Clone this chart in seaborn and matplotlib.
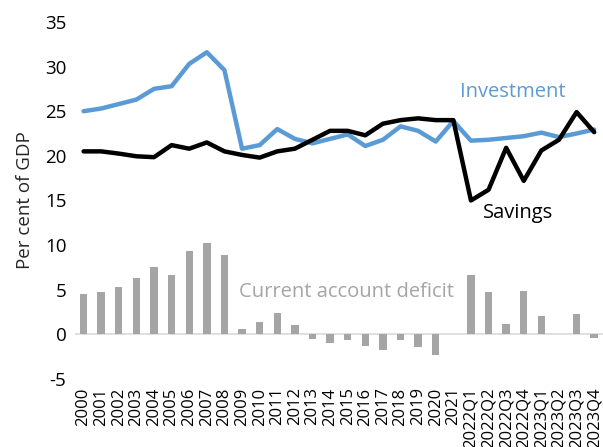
import numpy as np
import pandas as pd
import matplotlib
matplotlib.use("Agg")
import matplotlib.pyplot as plt
import seaborn as sns

categories = [str(y) for y in range(2000, 2022)] + [
    "2022Q1", "2022Q2", "2022Q3", "2022Q4", "2023Q1", "2023Q2", "2023Q3", "2023Q4"]

investment = [25.0, 25.3, 25.8, 26.3, 27.5, 27.8, 30.3, 31.6, 29.6, 20.8, 21.2, 23.0,
              21.9, 21.4, 21.9, 22.4, 21.1, 21.8, 23.3, 22.8, 21.6, 23.9,
              21.7, 21.8, 22.0, 22.2, 22.6, 22.1, 22.5, 22.95]

savings = [20.5, 20.5, 20.25, 19.95, 19.85, 21.2, 20.8, 21.5, 20.5, 20.1, 19.8, 20.5,
           20.8, 21.8, 22.8, 22.8, 22.3, 23.6, 24.0, 24.2, 24.0, 24.0,
           15.0, 16.2, 20.9, 17.2, 20.6, 21.8, 24.9, 22.65]

deficit = [4.5, 4.7, 5.35, 6.3, 7.6, 6.7, 9.3, 10.2, 8.9, 0.56, 1.35, 2.36,
           1.08, -0.56, -0.94, -0.67, -1.28, -1.7, -0.67, -1.4, -2.36, 0.0,
           6.6, 4.7, 1.2, 4.9, 2.1, 0.0, 2.3, -0.45]

yticks = [-5, 0, 5, 10, 15, 20, 25, 30, 35]

sns.set_theme(style="white")
plt.rcParams["font.family"] = ["Open Sans", "DejaVu Sans"]

df = pd.DataFrame({"cat": categories, "pos": np.arange(len(categories)),
                   "inv": investment, "sav": savings, "def": deficit})
bars = df[df["def"] != 0]

fig = plt.figure(figsize=(6.03, 4.47), dpi=100)
ax = fig.add_axes([0.124, 0.152, 0.876, 0.799])

sns.barplot(data=bars, x="pos", y="def", color="#A5A5A5", saturation=1,
            width=0.42, native_scale=True, ax=ax, zorder=2, linewidth=0)
ax.axhline(0, color="#D9D9D9", lw=1.2, zorder=1)
sns.lineplot(data=df, x="pos", y="inv", color="#5B9BD5", lw=3.2, ax=ax, zorder=3)
sns.lineplot(data=df, x="pos", y="sav", color="black", lw=3.2, ax=ax, zorder=4)

ax.set_xlim(-0.5, len(categories) - 0.5)
ax.set_ylim(-5, 35)
ax.set_yticks(yticks)
ax.set_yticklabels([str(t) for t in yticks], fontsize=13.5)
ax.set_xticks(np.arange(len(categories)))
ax.set_xticklabels(categories, rotation=90, fontsize=12)
ax.tick_params(axis="both", length=0, pad=6, colors="black")
ax.tick_params(axis="x", pad=6)
for s in ax.spines.values():
    s.set_visible(False)
ax.set_xlabel("")
ax.set_ylabel("Per cent of GDP", fontsize=13.5, labelpad=8)

ax.text(24.35, 27.1, "Investment", color="#5B9BD5", fontsize=14.5, ha="center", va="center")
ax.text(24.7, 13.6, "Savings", color="black", fontsize=14.5, ha="center", va="center")
ax.text(14.95, 4.75, "Current account deficit", color="#A5A5A5", fontsize=14.5,
        ha="center", va="center")

fig.savefig("out.png", dpi=100)
